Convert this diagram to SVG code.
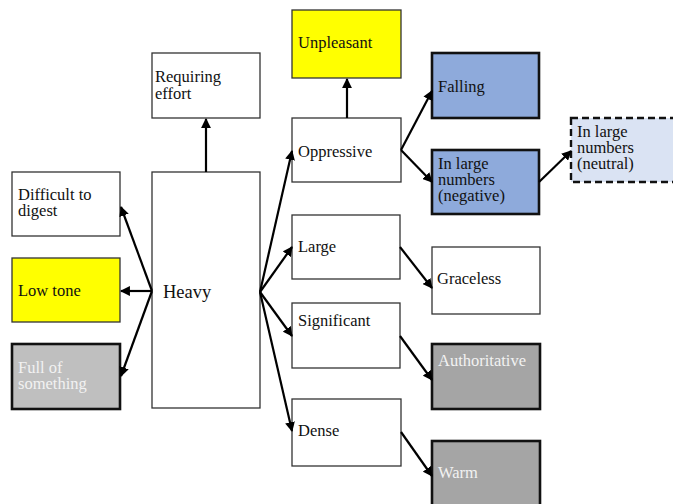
<svg xmlns="http://www.w3.org/2000/svg" width="673" height="504" viewBox="0 0 673 504">
<style>
.n{stroke:#333;stroke-width:1.3}
.w{fill:#fff}
.y{fill:#ffff00}
.g1{fill:#bfbfbf;stroke:#111;stroke-width:2.6}
.g2{fill:#a5a5a5;stroke:#111;stroke-width:2.6}
.b{fill:#8eaadb;stroke:#111;stroke-width:2.6}
.lb{fill:#dae3f3;stroke:#111;stroke-width:2.4;stroke-dasharray:7 4}
text{font-family:'Liberation Serif','DejaVu Serif',serif;font-size:16.5px;fill:#111}
.wt{fill:#f2f2f2}
.c line{stroke:#000;stroke-width:2.2;marker-end:url(#ah)}
</style>
<defs>
<marker id="ah" viewBox="0 0 10 10" refX="9" refY="5" markerWidth="4.5" markerHeight="4.5" orient="auto" markerUnits="strokeWidth">
<path d="M0,0 L10,5 L0,10 z" fill="#000"/>
</marker>
</defs>
<g font-family="Liberation Serif, DejaVu Serif, serif">
<g id="heavy"><rect class="n w" x="152" y="172" width="108" height="236"/><text x="163" y="298" style="font-size:18.5px">Heavy</text></g>
<g id="requiring"><rect class="n w" x="152" y="53" width="108" height="65"/><text x="155" y="82">Requiring</text><text x="155" y="99">effort</text></g>
<g id="difficult"><rect class="n w" x="12" y="172" width="108" height="64"/><text x="18" y="200">Difficult to</text><text x="18" y="216">digest</text></g>
<g id="lowtone"><rect class="n y" x="12" y="258" width="108" height="64"/><text x="18" y="296">Low tone</text></g>
<g id="full"><rect class="g1" x="12" y="344" width="108" height="65"/><text class="wt" x="18" y="373">Full of</text><text class="wt" x="18" y="389">something</text></g>
<g id="unpleasant"><rect class="n y" x="292" y="10" width="109" height="68"/><text x="298" y="48">Unpleasant</text></g>
<g id="oppressive"><rect class="n w" x="292" y="118" width="109" height="64"/><text x="298" y="157">Oppressive</text></g>
<g id="falling"><rect class="b" x="432" y="53" width="107" height="65"/><text x="438" y="92">Falling</text></g>
<g id="negative"><rect class="b" x="432" y="150" width="107" height="64"/><text x="438" y="169">In large</text><text x="438" y="185">numbers</text><text x="438" y="201">(negative)</text></g>
<g id="neutral"><rect class="lb" x="571" y="118" width="110" height="64"/><text x="577" y="137">In large</text><text x="577" y="153">numbers</text><text x="577" y="169">(neutral)</text></g>
<g id="large"><rect class="n w" x="292" y="215" width="108" height="64"/><text x="298" y="252">Large</text></g>
<g id="graceless"><rect class="n w" x="432" y="247" width="108" height="67"/><text x="437" y="284">Graceless</text></g>
<g id="significant"><rect class="n w" x="292" y="303" width="108" height="65"/><text x="298" y="326">Significant</text></g>
<g id="authoritative"><rect class="g2" x="432" y="344" width="108" height="65"/><text class="wt" x="438" y="366">Authoritative</text></g>
<g id="dense"><rect class="n w" x="292" y="399" width="109" height="67"/><text x="298" y="436">Dense</text></g>
<g id="warm"><rect class="g2" x="432" y="441" width="108" height="70"/><text class="wt" x="438" y="478">Warm</text></g>
</g>
<g class="c" id="connectors">
<line x1="206" y1="172" x2="206" y2="119"/>
<line x1="152" y1="291" x2="121" y2="207"/>
<line x1="152" y1="291" x2="121" y2="291"/>
<line x1="152" y1="291" x2="121" y2="376"/>
<line x1="260" y1="292" x2="292" y2="151"/>
<line x1="260" y1="292" x2="292" y2="247"/>
<line x1="260" y1="292" x2="292" y2="336"/>
<line x1="260" y1="292" x2="292" y2="431"/>
<line x1="347" y1="118" x2="347" y2="79"/>
<line x1="401" y1="150" x2="432" y2="91"/>
<line x1="401" y1="150" x2="432" y2="182"/>
<line x1="539" y1="182" x2="571" y2="151"/>
<line x1="400" y1="247" x2="432" y2="288"/>
<line x1="400" y1="336" x2="432" y2="380"/>
<line x1="401" y1="432" x2="432" y2="476"/>
</g>
</svg>
